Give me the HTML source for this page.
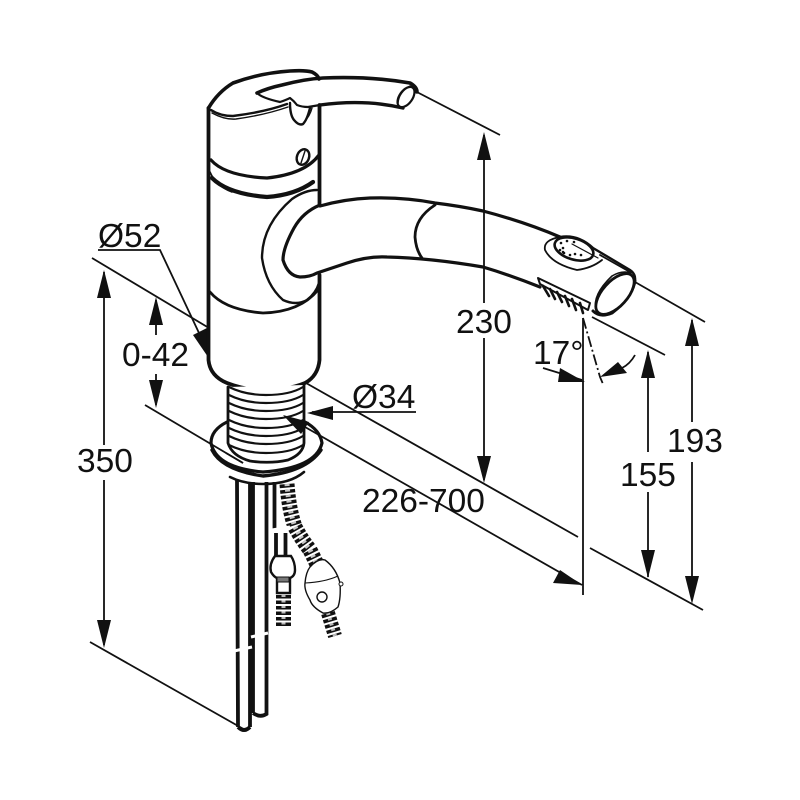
<!DOCTYPE html>
<html><head><meta charset="utf-8"><style>
html,body{margin:0;padding:0;background:#fff}
svg{display:block}
text{font-family:"Liberation Sans",sans-serif;font-size:33.5px;fill:#111}
</style></head><body>
<svg width="800" height="800" viewBox="0 0 800 800" xmlns="http://www.w3.org/2000/svg">
<rect width="800" height="800" fill="#fff"/>
<!-- dimension lines -->
<g stroke="#111" stroke-width="1.8" fill="none">
<path d="M413 90L500 135M484 135V303M484 338V480"/>
<path d="M92 258L209 328M145 405L243 463M90 642L247 731M104 272V445M104 480V645"/>
<path d="M156 300V335M156 374V405"/>
<path d="M98 250H160L207 350"/>
<path d="M306 383L578 537M305 427L582 585M583 318V595"/>
<path d="M352 412H416M312 412H352"/>
<path d="M592 317L665 355M648 352V452M648 492V577M590 548L703 610M635 282L705 322M692 320V422M692 462V600"/>
<path d="M543 368L582 380"/>
<path d="M583 318L600 377L603 384" stroke-dasharray="11 3 2 3"/>
<path d="M622 368Q630 364 635 355"/>
</g>
<g fill="#111">
<polygon points="484,132 477,160 491,160"/>
<polygon points="484,483 477,456 491,456"/>
<polygon points="104,270 97,298 111,298"/>
<polygon points="104,648 97,620 111,620"/>
<polygon points="156,297 149,325 163,325"/>
<polygon points="156,408 149,380 163,380"/>
<polygon points="648,350 641,378 655,378"/>
<polygon points="648,578 641,550 655,550"/>
<polygon points="692,318 685,346 699,346"/>
<polygon points="692,604 685,576 699,576"/>
<polygon points="208,357 193,335 207,328"/>
<polygon points="307,413 333,406 333,420"/>
<polygon points="585,382 558,382 560,368"/>
<polygon points="600,377 618,362 627,373"/>
<polygon points="582,585 560,570 553,583"/>
</g>
<!-- faucet -->
<g stroke="#111" fill="none" stroke-linecap="round" stroke-linejoin="round">
<!-- body -->
<path stroke-width="3.800" d="M208.500 108V360Q210 376 227 383Q245 390 263 390Q288 390 305 383Q318 376 319.500 360V275"/>
<path stroke-width="3.800" d="M319.500 105V205"/>
<path stroke-width="3.200" d="M211 160Q225 176 267 178Q305 174 319 155"/>
<path stroke-width="4.200" d="M212 178Q228 194 267 197Q295 195 313 182"/>
<path stroke-width="1.600" d="M210 172Q216 186 232 192"/>
<!-- spout collar and neck -->
<path stroke-width="2.400" d="M317 190Q305 190 292 199Q262 225 262 258Q266 285 283 300Q296 306 307 300Q316 293 319 283"/>
<path stroke-width="3.200" d="M320 205Q303 212 294 228Q283 248 283 260Q288 276 300 277Q310 277 317 273Q332 268 347 263Q368 256 387 257Q430 258 483 267Q510 275 540 287"/>
<path stroke-width="3.200" d="M320 206Q345 199 370 198Q405 197 435 203Q460 206 483 211Q525 222 560 237"/>
<path stroke-width="2.800" d="M210 292Q225 310 263 313Q300 312 318 290"/>
<path stroke-width="2.800" d="M435 205Q415 218 415 237Q416 250 422 258"/>
<!-- handle -->
<path stroke-width="3.600" d="M208.500 108Q218 92 233 83Q260 73 290 71Q305 70 312 72Q318 75 319 79"/>
<path stroke-width="3.600" d="M257 93Q268 88 282 85Q305 79 323 78Q370 76 410 83Q417 87 417 92"/>
<path stroke-width="2.200" d="M257 93Q262 98 280 102Q286 100 290 98Q294 101 297 105Q302 107 308 107L320 105"/>
<path stroke-width="3.400" d="M320 105Q365 99 403 108"/>
<path stroke-width="2.400" d="M211 110Q220 116 233 116Q265 112 287 104"/>
<path stroke-width="1.400" d="M212 113Q225 120 236 119Q265 115 288 107"/>
<path stroke-width="2.400" d="M290 103Q290 115 294 120Q299 126 303 124Q307 120 310 108"/>
<path stroke-width="1.400" d="M304 122Q310 116 312 108"/>
<ellipse cx="406" cy="97" rx="6.500" ry="11.500" transform="rotate(35 406 97)" stroke-width="2.200" fill="#fff"/>
<path stroke-width="1.400" d="M398 103Q399 92 410 86"/>
<ellipse cx="303" cy="157" rx="6" ry="8" transform="rotate(22 303 157)" stroke-width="2.400"/>
<path stroke-width="1.400" d="M301 163L305 151"/>
<!-- hand shower -->
<path stroke-width="2.400" d="M560 237Q578 234 593 248L630 270Q636 274 635 281"/>
<path stroke-width="3" d="M635 281Q632 298 612 313Q600 318 593 311"/>
<ellipse cx="615" cy="294" rx="12.500" ry="25" transform="rotate(42 615 294)" stroke-width="2.800" fill="#fff"/>
<path stroke-width="1.600" d="M596 310Q592 295 612 276Q622 270 631 273"/>
<path stroke-width="1.800" d="M600 255L630 272"/>
<path stroke-width="1.800" d="M560 237Q543 240 545 250Q552 264 577 270Q592 268 602 260"/>
<ellipse cx="574" cy="249" rx="20" ry="10.500" transform="rotate(17 574 249)" stroke-width="2.600"/>
<path stroke-width="1.200" d="M572 244L598 258"/>
<path stroke-width="2" d="M538 278L590 303L588 310L540 284Z"/>
<path stroke-width="2.600" d="M543 286L549 296M550 289L555 299M557 292L562 302M565 296L569 306M572 299L576 310M580 303L583 313"/>
<!-- base plate -->
<path stroke-width="3.200" d="M227 422Q211 430 211 443Q216 468 263 472Q316 468 322 443Q320 430 305 422"/>
<path stroke-width="3.400" d="M212 450Q222 470 263 476Q306 472 321 450"/>
<path stroke-width="2.600" d="M230 477Q244 484 263 484Q290 484 304 472"/>
<!-- threaded stem -->
<path stroke-width="2.800" d="M228 387V443Q232 456 250 461Q270 464 288 460Q303 454 304 443V385" fill="#fff"/>
<path stroke-width="2.200" d="M229 387Q245 395 266 395Q290 395 303 387M229 395Q245 403 266 403Q290 403 303 395M229 403Q245 411 266 411Q290 411 303 403M229 411Q245 419 266 419Q290 419 303 411M229 420Q245 428 266 428Q290 428 303 420M229 428Q245 436 266 436Q290 436 303 428M229 436Q245 444 266 444Q290 444 303 436M229 445Q245 453 266 453Q290 453 303 445"/>
</g>
<!-- lines and arrow over the stem -->
<path d="M226 453L243 463" stroke="#111" stroke-width="1.800" fill="none"/>
<polygon points="283,415 309,422 301,434" fill="#111"/>
<!-- supply pipes -->
<g stroke="#111" fill="none" stroke-width="3.800">
<path d="M237 480L238 727M250 482V727M253 482V713M266.500 482V714Q260 718 253 713"/>
<path d="M238 727Q244 733 250 727"/>
<path d="M274.500 482V530M276 533V557M285.500 533V557"/>
</g>
<!-- hoses -->
<g fill="none" stroke-linecap="butt">
<path d="M287 484Q289 510 295 527Q302 540 310 550Q315 560 319 569" stroke="#111" stroke-width="15" stroke-dasharray="3.500 2"/>
<path d="M287 484Q289 510 295 527Q302 540 310 550Q315 560 319 569" stroke="#c8c8c8" stroke-width="5" stroke-dasharray="2 3.500"/>
<path d="M328 613L335 636" stroke="#111" stroke-width="14" stroke-dasharray="3.500 2"/>
<path d="M328 613L335 636" stroke="#bbb" stroke-width="4" stroke-dasharray="2 3.500"/>
<path d="M283.500 595V628" stroke="#111" stroke-width="15" stroke-dasharray="3.500 2"/>
<path d="M283.500 595V628" stroke="#bbb" stroke-width="4" stroke-dasharray="2 3.500"/>
</g>
<g stroke="#111" fill="#fff" stroke-width="2.400">
<path d="M275 556Q269 564 271 572Q274 577 277 578V593H290V578Q295 576 295 570Q295 562 291 556Z"/>
<rect x="277" y="577" width="12" height="5" fill="#777" stroke-width="1"/>
<path d="M310 567Q318 558 325 560Q336 568 340 583Q341 598 338 607Q330 614 323 613Q312 607 310 600Q304 590 305 583Q306 572 310 567Z" stroke-width="1.400"/>
<circle cx="322" cy="597" r="5" stroke-width="1.400"/>
<circle cx="341" cy="584" r="2" stroke-width="1"/>
<path d="M305 583Q325 582 338 576" fill="none" stroke-width="1"/>
</g>
<!-- white breaks -->
<g stroke="#fff" stroke-width="3" fill="none">
<path d="M234 651L252 647M251 637L268 633M272 530L290 527"/>
</g>
<!-- dots on spray button -->
<g fill="#111">
<circle cx="561" cy="243" r="1.300"/><circle cx="567" cy="241" r="1.300"/><circle cx="574" cy="242" r="1.300"/><circle cx="563" cy="248" r="1.300"/><circle cx="560" cy="250" r="1.300"/><circle cx="564" cy="253" r="1.300"/><circle cx="570" cy="255" r="1.300"/><circle cx="575" cy="254" r="1.300"/><circle cx="581" cy="255" r="1.300"/><circle cx="563" cy="252" r="1.300"/>
</g>
<!-- labels -->
<g>
<text x="456" y="333">230</text>
<text x="98" y="247">Ø52</text>
<text x="122" y="366">0-42</text>
<text x="352" y="408">Ø34</text>
<text x="77" y="472">350</text>
<text x="362" y="512">226-700</text>
<text x="533" y="364">17°</text>
<text x="620" y="486">155</text>
<text x="667" y="452">193</text>
</g>
</svg>
</body></html>
